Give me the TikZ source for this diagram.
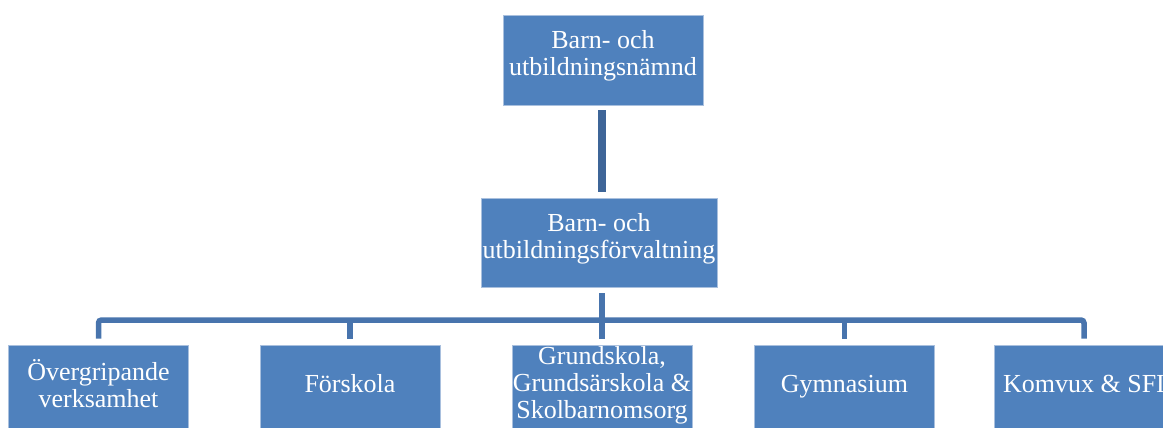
\documentclass[tikz,border=0pt]{standalone}
\usepackage{fontspec}
\setmainfont{Liberation Serif}
\definecolor{boxblue}{HTML}{4F81BD}
\definecolor{edgeblue}{HTML}{A9C0DE}
\definecolor{linkblue}{HTML}{4874AD}
\definecolor{darklink}{HTML}{3E6598}
\tikzset{
  box/.style={rectangle, fill=boxblue, draw=edgeblue, line width=0.8pt, inner sep=0pt},
  txt/.style={align=center, text=white, font=\fontsize{26}{27}\selectfont, inner sep=0pt},
  link/.style={draw=linkblue, line width=5.5pt, rounded corners=3pt},
  toplink/.style={draw=darklink, line width=8pt}
}
\begin{document}
\begin{tikzpicture}[x=1pt,y=-1pt]
\useasboundingbox (0,0) rectangle (1163,428);
\clip (0,0) rectangle (1163,428);
% top level boxes
\node[box, minimum width=200, minimum height=90] (nmd) at (603,60) {};
\node[txt] (nmdt) at ([yshift=4pt]nmd.center) {Barn- och\\utbildningsnämnd};
\node[box, minimum width=236, minimum height=89] (frv) at (599,242.5) {};
\node[txt] (frvt) at ([yshift=4pt]frv.center) {Barn- och\\utbildningsförvaltning};
% bottom boxes
\foreach \n/\x in {b1/98.5, b2/350, b3/602, b4/844.5, b5/1084}{
  \node[box, minimum width=180, minimum height=95] (\n) at (\x,392.5) {};
}
\node[txt] (b1t) at ([yshift=8.5pt]b1.center) {Övergripande\\verksamhet};
\node[txt] (b2t) at ([yshift=8.5pt]b2.center) {Förskola};
\node[txt] (b3t) at ([yshift=7pt]b3.center) {Grundskola,\\Grundsärskola \&\\Skolbarnomsorg};
\node[txt] (b4t) at ([yshift=5.5pt]b4.center) {Gymnasium};
\node[txt] (b5t) at ([yshift=8.5pt]b5.center) {Komvux \& SFI};
% coordinates for the bar
\coordinate (bar) at (602,320);
% connectors
\draw[toplink] ([yshift=-5pt]nmd.south -| bar) -- ([yshift=6pt]frv.north -| bar);
\draw[link] ([yshift=-6pt]frv.south -| bar) -- ([yshift=6pt]b3.north);
\draw[link] ([yshift=6pt]b1.north) -- (b1.north |- bar) -- (b5.north |- bar) -- ([yshift=6pt]b5.north);
\draw[link] (b2.north |- bar) -- ([yshift=6pt]b2.north);
\draw[link] (b4.north |- bar) -- ([yshift=6pt]b4.north);
\end{tikzpicture}
\end{document}
